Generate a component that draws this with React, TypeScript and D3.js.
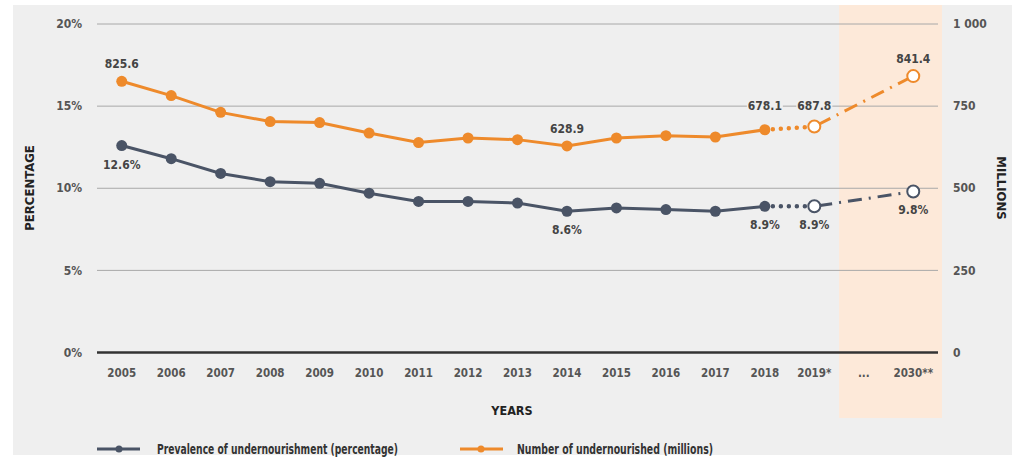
import React from "react";
import * as d3 from "d3";

const categories = ["2005", "2006", "2007", "2008", "2009", "2010", "2011", "2012", "2013", "2014", "2015", "2016", "2017", "2018", "2019*", "...", "2030**"];
const percentValues: [string, number][] = [
  ["2005", 12.6], ["2006", 11.8], ["2007", 10.9], ["2008", 10.4], ["2009", 10.3], ["2010", 9.7],
  ["2011", 9.2], ["2012", 9.2], ["2013", 9.1], ["2014", 8.6], ["2015", 8.8], ["2016", 8.7],
  ["2017", 8.6], ["2018", 8.9], ["2019*", 8.9], ["2030**", 9.8],
];
const millionValues: [string, number][] = [
  ["2005", 825.6], ["2006", 782], ["2007", 731], ["2008", 703], ["2009", 700], ["2010", 668],
  ["2011", 639], ["2012", 653], ["2013", 648], ["2014", 628.9], ["2015", 653], ["2016", 660],
  ["2017", 656], ["2018", 678.1], ["2019*", 687.8], ["2030**", 841.4],
];
const percentTicks = [0, 5, 10, 15, 20];
const millionTicks = [0, 250, 500, 750, 1000];
const millionTickLabels = ["0", "250", "500", "750", "1 000"];
const projected = ["2019*", "2030**"];

// labelled points
const percentLabels: [string, string][] = [["2005", "12.6%"], ["2014", "8.6%"], ["2018", "8.9%"], ["2019*", "8.9%"], ["2030**", "9.8%"]];
const millionLabels: [string, string][] = [["2005", "825.6"], ["2014", "628.9"], ["2018", "678.1"], ["2019*", "687.8"], ["2030**", "841.4"]];

const ORANGE = "#ee8a2b";
const SLATE = "#4a5466";
const FONT = "'DejaVu Sans Condensed', 'DejaVu Sans', sans-serif";

export default function App() {
  const width = 1024;
  const height = 462;
  const margin = { top: 24, right: 86, bottom: 110, left: 97 };

  const x = d3.scaleBand<string>().domain(categories).range([margin.left, width - margin.right]).padding(0);
  const cx = (c: string) => (x(c) ?? 0) + x.bandwidth() / 2;
  const yP = d3.scaleLinear().domain([0, 20]).range([352.5, margin.top]);
  const yM = d3.scaleLinear().domain([0, 1000]).range([352.5, margin.top]);

  const line = d3.line<[number, number]>().x((d) => d[0]).y((d) => d[1]);

  const series = [
    { data: percentValues, y: yP, color: SLATE },
    { data: millionValues, y: yM, color: ORANGE },
  ];

  const bandX0 = x("...") ?? 0;
  const txt = { fontStretch: "condensed" as const };

  return (
    <svg width={width} height={height} style={{ position: "absolute", left: 0, top: 0, ...txt }} fontFamily={FONT}>
      <rect x={0} y={0} width={width} height={height} fill="#ffffff" />
      <rect x={13} y={5} width={999} height={450} fill="#efefef" />
      {/* projection band */}
      <rect x={bandX0} y={5} width={width - margin.right + 4 - bandX0} height={413} fill="#fde9d9" />

      {/* gridlines */}
      {percentTicks.map((t) => (
        <line
          key={t}
          x1={margin.left}
          x2={width - margin.right}
          y1={yP(t)}
          y2={yP(t)}
          stroke={t === 0 ? "#333" : "#a8a8a8"}
          strokeWidth={t === 0 ? 2.5 : 1}
        />
      ))}

      {/* left ticks */}
      {percentTicks.map((t) => (
        <text key={t} x={82} y={yP(t)} dy="0.35em" textAnchor="end" fontSize={12} fontWeight="bold" fill="#555">
          {t}%
        </text>
      ))}
      {/* right ticks */}
      {millionTicks.map((t, i) => (
        <text key={t} x={953} y={yM(t)} dy="0.35em" textAnchor="start" fontSize={12} fontWeight="bold" fill="#555">
          {millionTickLabels[i]}
        </text>
      ))}
      {/* x ticks */}
      {categories.map((c) => (
        <text key={c} x={cx(c)} y={377} textAnchor="middle" fontSize={11.5} fontWeight="bold" fill="#555">
          {c}
        </text>
      ))}

      {/* axis titles */}
      <text transform="translate(34,188) rotate(-90)" textAnchor="middle" fontSize={13} fontWeight="bold" fill="#222">
        PERCENTAGE
      </text>
      <text transform="translate(997,188) rotate(90)" textAnchor="middle" fontSize={13} fontWeight="bold" fill="#222">
        MILLIONS
      </text>
      <text x={512} y={415} textAnchor="middle" fontSize={12.5} fontWeight="bold" fill="#222">
        YEARS
      </text>

      {/* series */}
      {series.map((s, si) => {
        const pts = s.data.map(([c, v]) => [cx(c), s.y(v)] as [number, number]);
        const solid = pts.slice(0, 14);
        const dotted = pts.slice(13, 15);
        const dashDot = pts.slice(14, 16);
        return (
          <g key={si}>
            <path d={line(solid) ?? ""} fill="none" stroke={s.color} strokeWidth={3} />
            <path d={line(dotted) ?? ""} fill="none" stroke={s.color} strokeWidth={4.5} strokeDasharray="0 8" strokeLinecap="round" />
            <path d={line(dashDot) ?? ""} fill="none" stroke={s.color} strokeWidth={3} strokeDasharray="14 7 2 7" strokeDashoffset={-4} />
            {s.data.map(([c, v]) => {
              const open = projected.includes(c);
              return (
                <circle
                  key={c}
                  cx={cx(c)}
                  cy={s.y(v)}
                  r={open ? 6 : 5.5}
                  fill={open ? "#fff" : s.color}
                  stroke={s.color}
                  strokeWidth={open ? 2 : 0}
                />
              );
            })}
          </g>
        );
      })}

      {/* value labels */}
      {percentLabels.map(([c, l]) => {
        const v = percentValues.find((d) => d[0] === c)![1];
        return (
          <text key={c} x={cx(c)} y={yP(v) + (c === "2030**" ? 22 : 23)} textAnchor="middle" fontSize={12} fontWeight="bold" fill="#444">
            {l}
          </text>
        );
      })}
      {millionLabels.map(([c, l]) => {
        const v = millionValues.find((d) => d[0] === c)![1];
        const onGrid = c === "2018" || c === "2019*";
        const ty = onGrid ? yM(750) : yM(v) - 17;
        return (
          <g key={c}>
            {onGrid && <rect x={cx(c) - 18} y={ty - 8} width={36} height={16} fill="#efefef" />}
            <text x={cx(c)} y={ty} dy="0.35em" textAnchor="middle" fontSize={12} fontWeight="bold" fill="#444">
              {l}
            </text>
          </g>
        );
      })}

      {/* legend */}
      <g>
        <line x1={97} x2={140} y1={449} y2={449} stroke={SLATE} strokeWidth={3} />
        <circle cx={119} cy={449} r={3.5} fill={SLATE} />
        <text x={157} y={449} dy="0.35em" fontSize={13.5} fontWeight="bold" fill="#333" textLength={241} lengthAdjust="spacingAndGlyphs">
          Prevalence of undernourishment (percentage)
        </text>
        <line x1={460} x2={503} y1={449} y2={449} stroke={ORANGE} strokeWidth={3} />
        <circle cx={481} cy={449} r={3.5} fill={ORANGE} />
        <text x={517} y={449} dy="0.35em" fontSize={13.5} fontWeight="bold" fill="#333" textLength={196} lengthAdjust="spacingAndGlyphs">
          Number of undernourished (millions)
        </text>
      </g>
    </svg>
  );
}
